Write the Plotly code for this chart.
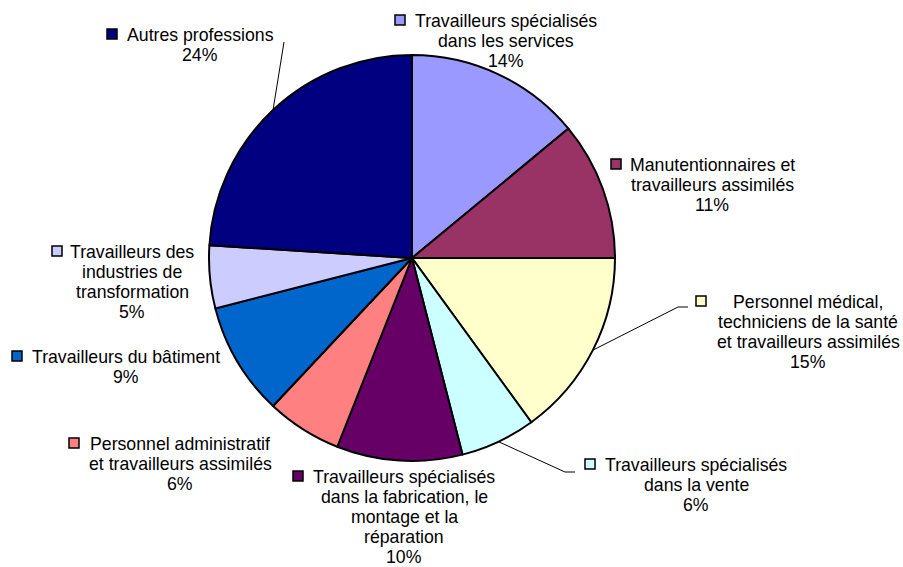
import math
import plotly.graph_objects as go

# ---- data ----
categories = [
    "Travailleurs spécialisés dans les services",
    "Manutentionnaires et travailleurs assimilés",
    "Personnel médical, techniciens de la santé et travailleurs assimilés",
    "Travailleurs spécialisés dans la vente",
    "Travailleurs spécialisés dans la fabrication, le montage et la réparation",
    "Personnel administratif et travailleurs assimilés",
    "Travailleurs du bâtiment",
    "Travailleurs des industries de transformation",
    "Autres professions",
]
values = [14, 11, 15, 6, 10, 6, 9, 5, 24]
label_lines = [
    ["Travailleurs spécialisés", "dans les services"],
    ["Manutentionnaires et", "travailleurs assimilés"],
    ["Personnel médical,", "techniciens de la santé", "et travailleurs assimilés"],
    ["Travailleurs spécialisés", "dans la vente"],
    ["Travailleurs spécialisés", "dans la fabrication, le", "montage et la", "réparation"],
    ["Personnel administratif", "et travailleurs assimilés"],
    ["Travailleurs du bâtiment"],
    ["Travailleurs des", "industries de", "transformation"],
    ["Autres professions"],
]
colors = ["#9999FF", "#993366", "#FFFFCC", "#CCFFFF", "#660066",
          "#FF8080", "#0066CC", "#CCCCFF", "#000080"]

# ---- layout (pixels) ----
W, H = 903, 567
CX, CY, R = 412, 258, 203
FONT = dict(family="Liberation Sans, Arial, sans-serif", size=17.7, color="black")
LINE_H = 20
SQ = 10
# per-label: text center x, first line y, key square left x
label_pos = [
    (506, 21, 395),
    (712, 165, 611),
    (808, 302, 696),
    (696, 465, 585),
    (404, 477, 293),
    (180, 444, 69),
    (126, 357, 12),
    (132, 252, 52),
    (200, 35, 107),
]
# leader lines: index -> list of label-side points
leaders = {
    8: [(284, 42)],
    2: [(678, 307), (688, 307)],
    3: [(565, 472), (575, 472)],
}

def px(x):
    return x / W

def py(y):
    return 1 - y / H

fig = go.Figure(go.Pie(
    values=values,
    labels=categories,
    sort=False,
    direction="clockwise",
    rotation=0,
    marker=dict(colors=colors, line=dict(color="black", width=2)),
    textinfo="none",
    hoverinfo="label+percent",
    showlegend=False,
    domain=dict(x=[px(CX - R), px(CX + R)], y=[py(CY + R), py(CY - R)]),
))

annotations = []
shapes = []
total = sum(values)
for i, (lines, v) in enumerate(zip(label_lines, values)):
    cx, y0, sqx = label_pos[i]
    all_lines = lines + [f"{round(100 * v / total)}%"]
    for k, t in enumerate(all_lines):
        annotations.append(dict(
            x=px(cx), y=py(y0 + k * LINE_H), xref="paper", yref="paper",
            text=t, showarrow=False, font=FONT,
            xanchor="center", yanchor="middle",
        ))
    sy = y0 - 1
    shapes.append(dict(
        type="rect", xref="paper", yref="paper",
        x0=px(sqx), x1=px(sqx + SQ), y0=py(sy - SQ / 2), y1=py(sy + SQ / 2),
        fillcolor=colors[i], line=dict(color="black", width=1.5),
    ))

cum = 0
mids = []
for v in values:
    mids.append((cum + v / 2) / total)
    cum += v
for i, pts in leaders.items():
    ang = 2 * math.pi * mids[i]
    ex = CX + R * math.sin(ang)
    ey = CY - R * math.cos(ang)
    path = f"M {px(ex)} {py(ey)}"
    for (x, y) in pts:
        path += f" L {px(x)} {py(y)}"
    shapes.append(dict(type="path", xref="paper", yref="paper", path=path,
                       line=dict(color="black", width=1)))

fig.update_layout(
    width=W, height=H,
    margin=dict(l=0, r=0, t=0, b=0),
    paper_bgcolor="white", plot_bgcolor="white",
    annotations=annotations, shapes=shapes,
)
fig.write_html(
    "out.html",
    config={"displayModeBar": False},
    post_script="document.body.style.margin='0';document.body.style.overflow='hidden';",
)
